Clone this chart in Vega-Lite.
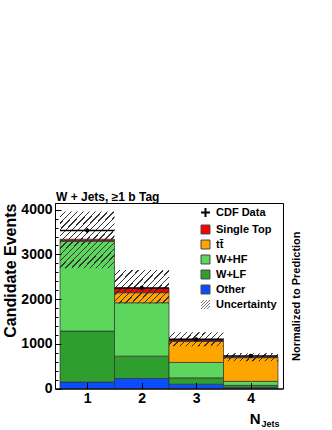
{
  "$schema": "https://vega.github.io/schema/vega-lite/v6.json",
  "width": 228,
  "height": 185.5,
  "autosize": {"type": "none"},
  "padding": {"left": 55, "top": 203, "right": 49, "bottom": 41.5},
  "background": "white",
  "config": {
    "view": {"stroke": "black", "strokeWidth": 1},
    "font": "Liberation Sans",
    "axis": {"labelColor": "black", "titleColor": "black", "domainColor": "black", "tickColor": "black", "labelFont": "Liberation Sans", "titleFont": "Liberation Sans", "grid": false},
    "legend": {"labelFont": "Liberation Sans", "labelColor": "black"}
  },
  "title": {"text": "W + Jets, ≥1 b Tag", "anchor": "start", "frame": "group", "fontSize": 12, "fontWeight": "bold", "font": "Liberation Sans", "baseline": "alphabetic", "offset": 2, "dx": 1, "dy": 12, "color": "black"},
  "datasets": {
    "stack": [
      {"bin": 1, "lo": 0.5, "hi": 1.5, "comp": "Other", "events": 145, "k": 1},
      {"bin": 1, "lo": 0.5, "hi": 1.5, "comp": "W+LF", "events": 1140, "k": 2},
      {"bin": 1, "lo": 0.5, "hi": 1.5, "comp": "W+HF", "events": 2005, "k": 3},
      {"bin": 1, "lo": 0.5, "hi": 1.5, "comp": "tt̄", "events": 20, "k": 4},
      {"bin": 1, "lo": 0.5, "hi": 1.5, "comp": "Single Top", "events": 30, "k": 5},
      {"bin": 2, "lo": 1.5, "hi": 2.5, "comp": "Other", "events": 224, "k": 1},
      {"bin": 2, "lo": 1.5, "hi": 2.5, "comp": "W+LF", "events": 500, "k": 2},
      {"bin": 2, "lo": 1.5, "hi": 2.5, "comp": "W+HF", "events": 1195, "k": 3},
      {"bin": 2, "lo": 1.5, "hi": 2.5, "comp": "tt̄", "events": 224, "k": 4},
      {"bin": 2, "lo": 1.5, "hi": 2.5, "comp": "Single Top", "events": 99, "k": 5},
      {"bin": 3, "lo": 2.5, "hi": 3.5, "comp": "Other", "events": 96, "k": 1},
      {"bin": 3, "lo": 2.5, "hi": 3.5, "comp": "W+LF", "events": 142, "k": 2},
      {"bin": 3, "lo": 2.5, "hi": 3.5, "comp": "W+HF", "events": 345, "k": 3},
      {"bin": 3, "lo": 2.5, "hi": 3.5, "comp": "tt̄", "events": 470, "k": 4},
      {"bin": 3, "lo": 2.5, "hi": 3.5, "comp": "Single Top", "events": 30, "k": 5},
      {"bin": 4, "lo": 3.5, "hi": 4.5, "comp": "Other", "events": 25, "k": 1},
      {"bin": 4, "lo": 3.5, "hi": 4.5, "comp": "W+LF", "events": 45, "k": 2},
      {"bin": 4, "lo": 3.5, "hi": 4.5, "comp": "W+HF", "events": 90, "k": 3},
      {"bin": 4, "lo": 3.5, "hi": 4.5, "comp": "tt̄", "events": 530, "k": 4},
      {"bin": 4, "lo": 3.5, "hi": 4.5, "comp": "Single Top", "events": 15, "k": 5}
    ],
    "unc": [
      {"bin": 1, "lo": 0.5, "hi": 1.5, "down": 2690, "up": 3960},
      {"bin": 2, "lo": 1.5, "hi": 2.5, "down": 1900, "up": 2652},
      {"bin": 3, "lo": 2.5, "hi": 3.5, "down": 945, "up": 1260},
      {"bin": 4, "lo": 3.5, "hi": 4.5, "down": 612, "up": 790}
    ],
    "obs": [
      {"bin": 1, "lo": 0.5, "hi": 1.5, "events": 3534, "errlo": 3475, "errhi": 3593},
      {"bin": 2, "lo": 1.5, "hi": 2.5, "events": 2250, "errlo": 2203, "errhi": 2297},
      {"bin": 3, "lo": 2.5, "hi": 3.5, "events": 1098, "errlo": 1065, "errhi": 1131},
      {"bin": 4, "lo": 3.5, "hi": 4.5, "events": 728, "errlo": 701, "errhi": 755}
    ],
    "entries": [
      {"comp": "CDF Data"}, {"comp": "Single Top"}, {"comp": "tt̄"}, {"comp": "W+HF"}, {"comp": "W+LF"}, {"comp": "Other"}, {"comp": "Uncertainty"}
    ]
  },
  "layer": [
    {
      "data": {"name": "entries"},
      "mark": {"type": "point", "filled": true, "opacity": 0},
      "encoding": {
        "fill": {"field": "comp", "type": "nominal",
          "scale": {"domain": ["CDF Data", "Single Top", "tt̄", "W+HF", "W+LF", "Other", "Uncertainty"],
            "range": ["#000000", "#FF0000", "#FFA500", "#5CD65C", "#2E9E2E", "#0A4DFF", "rgba(255,255,255,0)"]},
          "legend": {"title": null, "orient": "none", "legendX": 145, "legendY": 4, "padding": 0, "labelFontSize": 11, "labelFontWeight": "bold", "symbolSize": 80, "symbolStrokeWidth": 1.2, "rowPadding": 2, "labelOffset": 5, "symbolOpacity": 1,
            "encoding": {"symbols": {
              "shape": {"value": {"expr": "datum.value === 'CDF Data' ? 'M-1,0L1,0M0,-1L0,1' : (datum.value === 'Uncertainty' ? 'M-1,-0.33L-0.33,-1M-1,0.33L0.33,-1M-1,1L1,-1M-0.33,1L1,-0.33M0.33,1L1,0.33' : 'square')"}},
              "stroke": {"value": {"expr": "datum.value === 'CDF Data' ? '#000000' : (datum.value === 'Uncertainty' ? '#777777' : '#444444')"}},
              "strokeWidth": {"value": {"expr": "datum.value === 'CDF Data' ? 2 : 1"}}
            }}}}
      }
    },
    {
      "data": {"name": "stack"},
      "mark": {"type": "bar", "orient": "vertical", "stroke": "#333333", "strokeWidth": 0.8, "strokeOpacity": 0.9},
      "encoding": {
        "x": {"field": "lo", "type": "quantitative", "scale": {"domain": [0.5, 4.5], "nice": false, "zero": false},
          "axis": {"values": [1, 2, 3, 4], "format": "d", "title": "N", "domain": true, "ticks": true, "tickSize": -6, "labelFontSize": 14, "labelFontWeight": "bold", "labelPadding": 9, "zindex": 1,
            "titleFontSize": 15, "titleFontWeight": "bold", "titleX": 205, "titleY": 34.5, "titleAlign": "right", "titleBaseline": "alphabetic", "titleAnchor": "end"}},
        "x2": {"field": "hi"},
        "y": {"field": "events", "type": "quantitative", "stack": "zero", "scale": {"domain": [0, 4150], "nice": false},
          "axis": {"values": [0, 1000, 2000, 3000, 4000], "format": "d", "title": "Candidate Events", "titleAnchor": "end", "titleFontSize": 16, "titleFontWeight": "bold", "titlePadding": 2,
            "labelFontSize": 14, "labelFontWeight": "bold", "tickSize": -6, "labelPadding": 9, "domain": true, "zindex": 1}},
        "fill": {"field": "comp", "type": "nominal"},
        "order": {"field": "k", "type": "quantitative"}
      }
    },
    {
      "data": {"name": "unc"},
      "transform": [{"filter": "datum.bin == 1"}],
      "mark": {"type": "bar", "fill": {"gradient": "linear", "x1": 0, "y1": 0, "x2": 1, "y2": 1, "stops": [
        {"offset": 0, "color": "rgba(255,255,255,0)"}, {"offset": 0.0433, "color": "rgba(255,255,255,0)"}, {"offset": 0.0433, "color": "#333"}, {"offset": 0.0556, "color": "#333"},
        {"offset": 0.0556, "color": "rgba(255,255,255,0)"}, {"offset": 0.0989, "color": "rgba(255,255,255,0)"}, {"offset": 0.0989, "color": "#333"}, {"offset": 0.1111, "color": "#333"},
        {"offset": 0.1111, "color": "rgba(255,255,255,0)"}, {"offset": 0.1544, "color": "rgba(255,255,255,0)"}, {"offset": 0.1544, "color": "#333"}, {"offset": 0.1667, "color": "#333"},
        {"offset": 0.1667, "color": "rgba(255,255,255,0)"}, {"offset": 0.2100, "color": "rgba(255,255,255,0)"}, {"offset": 0.2100, "color": "#333"}, {"offset": 0.2222, "color": "#333"},
        {"offset": 0.2222, "color": "rgba(255,255,255,0)"}, {"offset": 0.2656, "color": "rgba(255,255,255,0)"}, {"offset": 0.2656, "color": "#333"}, {"offset": 0.2778, "color": "#333"},
        {"offset": 0.2778, "color": "rgba(255,255,255,0)"}, {"offset": 0.3211, "color": "rgba(255,255,255,0)"}, {"offset": 0.3211, "color": "#333"}, {"offset": 0.3333, "color": "#333"},
        {"offset": 0.3333, "color": "rgba(255,255,255,0)"}, {"offset": 0.3767, "color": "rgba(255,255,255,0)"}, {"offset": 0.3767, "color": "#333"}, {"offset": 0.3889, "color": "#333"},
        {"offset": 0.3889, "color": "rgba(255,255,255,0)"}, {"offset": 0.4322, "color": "rgba(255,255,255,0)"}, {"offset": 0.4322, "color": "#333"}, {"offset": 0.4444, "color": "#333"},
        {"offset": 0.4444, "color": "rgba(255,255,255,0)"}, {"offset": 0.4878, "color": "rgba(255,255,255,0)"}, {"offset": 0.4878, "color": "#333"}, {"offset": 0.5, "color": "#333"},
        {"offset": 0.5, "color": "rgba(255,255,255,0)"}, {"offset": 0.5433, "color": "rgba(255,255,255,0)"}, {"offset": 0.5433, "color": "#333"}, {"offset": 0.5556, "color": "#333"},
        {"offset": 0.5556, "color": "rgba(255,255,255,0)"}, {"offset": 0.5989, "color": "rgba(255,255,255,0)"}, {"offset": 0.5989, "color": "#333"}, {"offset": 0.6111, "color": "#333"},
        {"offset": 0.6111, "color": "rgba(255,255,255,0)"}, {"offset": 0.6544, "color": "rgba(255,255,255,0)"}, {"offset": 0.6544, "color": "#333"}, {"offset": 0.6667, "color": "#333"},
        {"offset": 0.6667, "color": "rgba(255,255,255,0)"}, {"offset": 0.7100, "color": "rgba(255,255,255,0)"}, {"offset": 0.7100, "color": "#333"}, {"offset": 0.7222, "color": "#333"},
        {"offset": 0.7222, "color": "rgba(255,255,255,0)"}, {"offset": 0.7656, "color": "rgba(255,255,255,0)"}, {"offset": 0.7656, "color": "#333"}, {"offset": 0.7778, "color": "#333"},
        {"offset": 0.7778, "color": "rgba(255,255,255,0)"}, {"offset": 0.8211, "color": "rgba(255,255,255,0)"}, {"offset": 0.8211, "color": "#333"}, {"offset": 0.8333, "color": "#333"},
        {"offset": 0.8333, "color": "rgba(255,255,255,0)"}, {"offset": 0.8767, "color": "rgba(255,255,255,0)"}, {"offset": 0.8767, "color": "#333"}, {"offset": 0.8889, "color": "#333"},
        {"offset": 0.8889, "color": "rgba(255,255,255,0)"}, {"offset": 0.9322, "color": "rgba(255,255,255,0)"}, {"offset": 0.9322, "color": "#333"}, {"offset": 0.9444, "color": "#333"},
        {"offset": 0.9444, "color": "rgba(255,255,255,0)"}, {"offset": 0.9878, "color": "rgba(255,255,255,0)"}, {"offset": 0.9878, "color": "#333"}, {"offset": 1, "color": "#333"}
      ]}},
      "encoding": {
        "x": {"field": "lo", "type": "quantitative", "scale": {"domain": [0.5, 4.5], "nice": false, "zero": false}, "axis": null},
        "x2": {"field": "hi"},
        "y": {"field": "down", "type": "quantitative", "scale": {"domain": [0, 4150], "nice": false},
          "axis": {"orient": "left", "values": [200, 400, 600, 800, 1200, 1400, 1600, 1800, 2200, 2400, 2600, 2800, 3200, 3400, 3600, 3800], "labels": false, "domain": false, "title": null, "tickSize": -3, "zindex": 1}},
        "y2": {"field": "up"}
      }
    },
    {
      "data": {"name": "unc"},
      "transform": [{"filter": "datum.bin == 2"}],
      "mark": {"type": "bar", "fill": {"gradient": "linear", "x1": 0, "y1": 0, "x2": 1.18, "y2": 0.695, "stops": [
        {"offset": 0, "color": "rgba(255,255,255,0)"}, {"offset": 0.0557, "color": "rgba(255,255,255,0)"}, {"offset": 0.0557, "color": "#333"}, {"offset": 0.0714, "color": "#333"},
        {"offset": 0.0714, "color": "rgba(255,255,255,0)"}, {"offset": 0.1271, "color": "rgba(255,255,255,0)"}, {"offset": 0.1271, "color": "#333"}, {"offset": 0.1429, "color": "#333"},
        {"offset": 0.1429, "color": "rgba(255,255,255,0)"}, {"offset": 0.1986, "color": "rgba(255,255,255,0)"}, {"offset": 0.1986, "color": "#333"}, {"offset": 0.2143, "color": "#333"},
        {"offset": 0.2143, "color": "rgba(255,255,255,0)"}, {"offset": 0.2700, "color": "rgba(255,255,255,0)"}, {"offset": 0.2700, "color": "#333"}, {"offset": 0.2857, "color": "#333"},
        {"offset": 0.2857, "color": "rgba(255,255,255,0)"}, {"offset": 0.3414, "color": "rgba(255,255,255,0)"}, {"offset": 0.3414, "color": "#333"}, {"offset": 0.3571, "color": "#333"},
        {"offset": 0.3571, "color": "rgba(255,255,255,0)"}, {"offset": 0.4129, "color": "rgba(255,255,255,0)"}, {"offset": 0.4129, "color": "#333"}, {"offset": 0.4286, "color": "#333"},
        {"offset": 0.4286, "color": "rgba(255,255,255,0)"}, {"offset": 0.4843, "color": "rgba(255,255,255,0)"}, {"offset": 0.4843, "color": "#333"}, {"offset": 0.5, "color": "#333"},
        {"offset": 0.5, "color": "rgba(255,255,255,0)"}, {"offset": 0.5557, "color": "rgba(255,255,255,0)"}, {"offset": 0.5557, "color": "#333"}, {"offset": 0.5714, "color": "#333"},
        {"offset": 0.5714, "color": "rgba(255,255,255,0)"}, {"offset": 0.6271, "color": "rgba(255,255,255,0)"}, {"offset": 0.6271, "color": "#333"}, {"offset": 0.6429, "color": "#333"},
        {"offset": 0.6429, "color": "rgba(255,255,255,0)"}, {"offset": 0.6986, "color": "rgba(255,255,255,0)"}, {"offset": 0.6986, "color": "#333"}, {"offset": 0.7143, "color": "#333"},
        {"offset": 0.7143, "color": "rgba(255,255,255,0)"}, {"offset": 0.7700, "color": "rgba(255,255,255,0)"}, {"offset": 0.7700, "color": "#333"}, {"offset": 0.7857, "color": "#333"},
        {"offset": 0.7857, "color": "rgba(255,255,255,0)"}, {"offset": 0.8414, "color": "rgba(255,255,255,0)"}, {"offset": 0.8414, "color": "#333"}, {"offset": 0.8571, "color": "#333"},
        {"offset": 0.8571, "color": "rgba(255,255,255,0)"}, {"offset": 0.9129, "color": "rgba(255,255,255,0)"}, {"offset": 0.9129, "color": "#333"}, {"offset": 0.9286, "color": "#333"},
        {"offset": 0.9286, "color": "rgba(255,255,255,0)"}, {"offset": 0.9843, "color": "rgba(255,255,255,0)"}, {"offset": 0.9843, "color": "#333"}, {"offset": 1, "color": "#333"}
      ]}},
      "encoding": {
        "x": {"field": "lo", "type": "quantitative", "scale": {"domain": [0.5, 4.5], "nice": false, "zero": false}, "axis": null},
        "x2": {"field": "hi"},
        "y": {"field": "down", "type": "quantitative", "scale": {"domain": [0, 4150], "nice": false}, "axis": null},
        "y2": {"field": "up"}
      }
    },
    {
      "data": {"name": "unc"},
      "transform": [{"filter": "datum.bin == 3"}],
      "mark": {"type": "bar", "fill": {"gradient": "linear", "x1": 0, "y1": 0, "x2": 1.175, "y2": 0.289, "stops": [
        {"offset": 0, "color": "rgba(255,255,255,0)"}, {"offset": 0.0709, "color": "rgba(255,255,255,0)"}, {"offset": 0.0709, "color": "#333"}, {"offset": 0.0909, "color": "#333"},
        {"offset": 0.0909, "color": "rgba(255,255,255,0)"}, {"offset": 0.1618, "color": "rgba(255,255,255,0)"}, {"offset": 0.1618, "color": "#333"}, {"offset": 0.1818, "color": "#333"},
        {"offset": 0.1818, "color": "rgba(255,255,255,0)"}, {"offset": 0.2527, "color": "rgba(255,255,255,0)"}, {"offset": 0.2527, "color": "#333"}, {"offset": 0.2727, "color": "#333"},
        {"offset": 0.2727, "color": "rgba(255,255,255,0)"}, {"offset": 0.3436, "color": "rgba(255,255,255,0)"}, {"offset": 0.3436, "color": "#333"}, {"offset": 0.3636, "color": "#333"},
        {"offset": 0.3636, "color": "rgba(255,255,255,0)"}, {"offset": 0.4345, "color": "rgba(255,255,255,0)"}, {"offset": 0.4345, "color": "#333"}, {"offset": 0.4545, "color": "#333"},
        {"offset": 0.4545, "color": "rgba(255,255,255,0)"}, {"offset": 0.5255, "color": "rgba(255,255,255,0)"}, {"offset": 0.5255, "color": "#333"}, {"offset": 0.5455, "color": "#333"},
        {"offset": 0.5455, "color": "rgba(255,255,255,0)"}, {"offset": 0.6164, "color": "rgba(255,255,255,0)"}, {"offset": 0.6164, "color": "#333"}, {"offset": 0.6364, "color": "#333"},
        {"offset": 0.6364, "color": "rgba(255,255,255,0)"}, {"offset": 0.7073, "color": "rgba(255,255,255,0)"}, {"offset": 0.7073, "color": "#333"}, {"offset": 0.7273, "color": "#333"},
        {"offset": 0.7273, "color": "rgba(255,255,255,0)"}, {"offset": 0.7982, "color": "rgba(255,255,255,0)"}, {"offset": 0.7982, "color": "#333"}, {"offset": 0.8182, "color": "#333"},
        {"offset": 0.8182, "color": "rgba(255,255,255,0)"}, {"offset": 0.8891, "color": "rgba(255,255,255,0)"}, {"offset": 0.8891, "color": "#333"}, {"offset": 0.9091, "color": "#333"},
        {"offset": 0.9091, "color": "rgba(255,255,255,0)"}, {"offset": 0.9800, "color": "rgba(255,255,255,0)"}, {"offset": 0.9800, "color": "#333"}, {"offset": 1, "color": "#333"}
      ]}},
      "encoding": {
        "x": {"field": "lo", "type": "quantitative", "scale": {"domain": [0.5, 4.5], "nice": false, "zero": false}, "axis": null},
        "x2": {"field": "hi"},
        "y": {"field": "down", "type": "quantitative", "scale": {"domain": [0, 4150], "nice": false}, "axis": null},
        "y2": {"field": "up"}
      }
    },
    {
      "data": {"name": "unc"},
      "transform": [{"filter": "datum.bin == 4"}],
      "mark": {"type": "bar", "fill": {"gradient": "linear", "x1": 0, "y1": 0, "x2": 1.117, "y2": 0.155, "stops": [
        {"offset": 0, "color": "rgba(255,255,255,0)"}, {"offset": 0.078, "color": "rgba(255,255,255,0)"}, {"offset": 0.078, "color": "#333"}, {"offset": 0.1, "color": "#333"},
        {"offset": 0.1, "color": "rgba(255,255,255,0)"}, {"offset": 0.178, "color": "rgba(255,255,255,0)"}, {"offset": 0.178, "color": "#333"}, {"offset": 0.2, "color": "#333"},
        {"offset": 0.2, "color": "rgba(255,255,255,0)"}, {"offset": 0.278, "color": "rgba(255,255,255,0)"}, {"offset": 0.278, "color": "#333"}, {"offset": 0.3, "color": "#333"},
        {"offset": 0.3, "color": "rgba(255,255,255,0)"}, {"offset": 0.378, "color": "rgba(255,255,255,0)"}, {"offset": 0.378, "color": "#333"}, {"offset": 0.4, "color": "#333"},
        {"offset": 0.4, "color": "rgba(255,255,255,0)"}, {"offset": 0.478, "color": "rgba(255,255,255,0)"}, {"offset": 0.478, "color": "#333"}, {"offset": 0.5, "color": "#333"},
        {"offset": 0.5, "color": "rgba(255,255,255,0)"}, {"offset": 0.578, "color": "rgba(255,255,255,0)"}, {"offset": 0.578, "color": "#333"}, {"offset": 0.6, "color": "#333"},
        {"offset": 0.6, "color": "rgba(255,255,255,0)"}, {"offset": 0.678, "color": "rgba(255,255,255,0)"}, {"offset": 0.678, "color": "#333"}, {"offset": 0.7, "color": "#333"},
        {"offset": 0.7, "color": "rgba(255,255,255,0)"}, {"offset": 0.778, "color": "rgba(255,255,255,0)"}, {"offset": 0.778, "color": "#333"}, {"offset": 0.8, "color": "#333"},
        {"offset": 0.8, "color": "rgba(255,255,255,0)"}, {"offset": 0.878, "color": "rgba(255,255,255,0)"}, {"offset": 0.878, "color": "#333"}, {"offset": 0.9, "color": "#333"},
        {"offset": 0.9, "color": "rgba(255,255,255,0)"}, {"offset": 0.978, "color": "rgba(255,255,255,0)"}, {"offset": 0.978, "color": "#333"}, {"offset": 1, "color": "#333"}
      ]}},
      "encoding": {
        "x": {"field": "lo", "type": "quantitative", "scale": {"domain": [0.5, 4.5], "nice": false, "zero": false}, "axis": null},
        "x2": {"field": "hi"},
        "y": {"field": "down", "type": "quantitative", "scale": {"domain": [0, 4150], "nice": false}, "axis": null},
        "y2": {"field": "up"}
      }
    },
    {
      "data": {"name": "obs"},
      "mark": {"type": "rule", "color": "black", "strokeWidth": 1.6},
      "encoding": {
        "x": {"field": "lo", "type": "quantitative", "scale": {"domain": [0.5, 4.5], "nice": false, "zero": false}, "axis": null},
        "x2": {"field": "hi"},
        "y": {"field": "events", "type": "quantitative", "scale": {"domain": [0, 4150], "nice": false}, "axis": null}
      }
    },
    {
      "data": {"name": "obs"},
      "mark": {"type": "rule", "color": "black", "strokeWidth": 1.2},
      "encoding": {
        "x": {"field": "bin", "type": "quantitative", "scale": {"domain": [0.5, 4.5], "nice": false, "zero": false}, "axis": null},
        "y": {"field": "errlo", "type": "quantitative", "scale": {"domain": [0, 4150], "nice": false}, "axis": null},
        "y2": {"field": "errhi"}
      }
    },
    {
      "data": {"name": "obs"},
      "mark": {"type": "circle", "color": "black", "size": 18, "opacity": 1},
      "encoding": {
        "x": {"field": "bin", "type": "quantitative", "scale": {"domain": [0.5, 4.5], "nice": false, "zero": false},
          "axis": {"orient": "bottom", "title": "Jets", "labels": false, "ticks": false, "domain": false, "titleFontSize": 9, "titleFontWeight": "bold", "titleX": 206, "titleY": 37.5, "titleAlign": "left", "titleBaseline": "alphabetic", "titleAnchor": "start"}},
        "y": {"field": "events", "type": "quantitative", "scale": {"domain": [0, 4150], "nice": false},
          "axis": {"orient": "right", "title": "Normalized to Prediction", "labels": false, "ticks": false, "domain": false, "titleFontSize": 11, "titleFontWeight": "bold", "titleAngle": 270, "titleBaseline": "top", "titlePadding": 7}}
      }
    }
  ],
  "resolve": {"axis": {"x": "independent", "y": "independent"}}
}
